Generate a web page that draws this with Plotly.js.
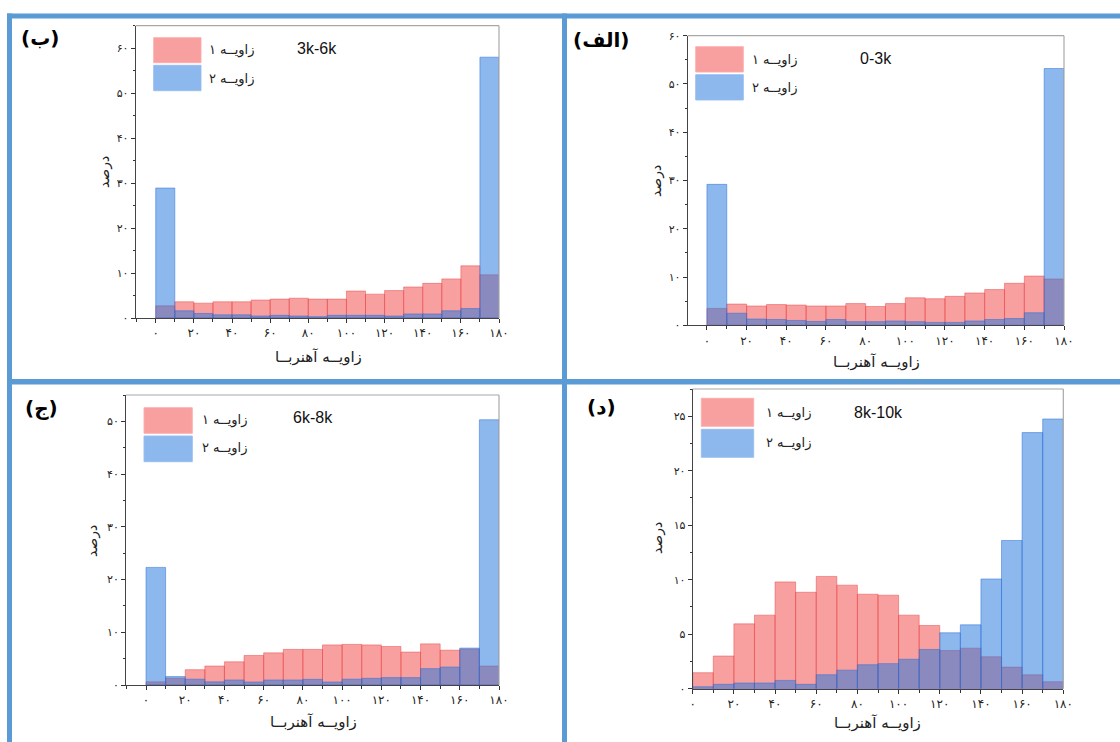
<!DOCTYPE html>
<html>
<head>
<meta charset="utf-8">
<script src="https://cdn.plot.ly/plotly-3.0.1.min.js"></script>
<style>html,body{margin:0;padding:0;background:#fff;}#chart{width:1120px;height:742px;}</style>
</head>
<body>
<div id="chart"></div>
<script>
// ---- data ----
const angleBins = [5,15,25,35,45,55,65,75,85,95,105,115,125,135,145,155,165,175];
const xTickVals = [0,20,40,60,80,100,120,140,160,180];
const xTickText = ['۰','۲۰','۴۰','۶۰','۸۰','۱۰۰','۱۲۰','۱۴۰','۱۶۰','۱۸۰'];

// (الف) 0-3k
const alefAngle1 = [3.5,4.4,4.0,4.3,4.2,4.0,4.0,4.5,3.9,4.5,5.7,5.5,6.0,6.7,7.4,8.7,10.2,9.6];
const alefAngle2 = [29.2,2.5,1.3,1.2,1.0,0.8,1.2,0.76,0.76,0.9,0.76,0.6,0.6,0.9,1.2,1.4,2.6,53.2];
// (ب) 3k-6k
const beAngle1 = [2.7,3.6,3.3,3.6,3.6,4.0,4.2,4.4,4.2,4.2,6.0,5.3,6.1,6.9,7.7,8.7,11.6,9.6];
const beAngle2 = [28.9,1.6,1.0,0.7,0.7,0.45,0.6,0.45,0.3,0.6,0.6,0.6,0.45,0.9,0.9,1.6,2.1,58.0];
// (ج) 6k-8k
const jimAngle1 = [0.6,1.3,2.9,3.6,4.4,5.6,6.1,6.75,6.75,7.6,7.7,7.6,7.3,6.25,7.8,6.6,6.8,3.6];
const jimAngle2 = [22.3,1.6,1.1,0.6,0.95,0.57,0.95,0.95,1.07,0.57,1.1,1.26,1.4,1.4,3.1,3.4,7.0,50.3];
// (د) 8k-10k
const dalAngle1 = [1.47,3.0,5.95,6.75,9.8,8.85,10.3,9.5,8.67,8.58,6.75,5.8,3.5,3.72,2.93,1.98,1.28,0.64];
const dalAngle2 = [0.18,0.4,0.52,0.52,0.76,0.4,1.28,1.7,2.2,2.3,2.7,3.6,5.13,5.86,10.07,13.6,23.5,24.75];

const yTicks60 = [0,10,20,30,40,50,60];
const yText60 = ['۰','۱۰','۲۰','۳۰','۴۰','۵۰','۶۰'];
const yTicks50 = [0,10,20,30,40,50];
const yText50 = ['۰','۱۰','۲۰','۳۰','۴۰','۵۰'];
const yTicks25 = [0,5,10,15,20,25];
const yText25 = ['۰','۵','۱۰','۱۵','۲۰','۲۵'];

const seriesName1 = 'زاویــه ۱';
const seriesName2 = 'زاویــه ۲';
const xTitle = 'زاویــه آهنربــا';
const yTitle = 'درصد';

// ---- layout helpers ----
const W = 1120, H = 742;
const px = v => v / W;
const py = v => 1 - v / H;

const RED_FILL = 'rgba(241,65,65,0.5)';
const RED_LINE = 'rgba(232,60,60,0.45)';
const BLUE_FILL = 'rgba(36,118,220,0.52)';
const BLUE_LINE = 'rgba(40,110,220,0.5)';
const FONT_FA = 'DejaVu Sans, sans-serif';

const panels = [
  {id:'', a1:beAngle1, a2:beAngle2, box:[135.7,499,25.7,318], xr:[-10.5,180], yr:[0,65], yv:yTicks60, yt:yText60, ym:5,
   label:'(ب)', labelPos:[40,38], tag:'3k-6k', tagPos:[317,48],
   leg:[153.7,201,37.7,62.7,65.3,90.7], legText:[232,50,79], xt:[318,357], yT:[104,172]},
  {id:'2', a1:alefAngle1, a2:alefAngle2, box:[687.7,1064,35.7,325.3], xr:[-9.7,180], yr:[0,60], yv:yTicks60, yt:yText60, ym:5,
   label:'(الف)', labelPos:[601,40], tag:'0-3k', tagPos:[876,58],
   leg:[695.7,743.3,46.7,72,74.7,100], legText:[775,60,88], xt:[876,362], yT:[657,181]},
  {id:'3', a1:jimAngle1, a2:jimAngle2, box:[126,499,395,685], xr:[-10.2,180], yr:[0,55], yv:yTicks50, yt:yText50, ym:5,
   label:'(ج)', labelPos:[41,408], tag:'6k-8k', tagPos:[313,417],
   leg:[144,192.3,407.7,433.3,436,461.7], legText:[225,420,448], xt:[313,722], yT:[92,541]},
  {id:'4', a1:dalAngle1, a2:dalAngle2, box:[692.7,1063.3,389,688.7], xr:[0,180], yr:[0,27.5], yv:yTicks25, yt:yText25, ym:2.5,
   label:'(د)', labelPos:[601,407], tag:'8k-10k', tagPos:[878,412],
   leg:[701.3,753.7,398.3,426.3,429.3,457.3], legText:[789,413,443], xt:[877,723], yT:[657,538]}
];

const traces = [];
const layout = {
  width: W, height: H,
  margin: {l:0, r:0, t:0, b:0},
  paper_bgcolor: '#fff', plot_bgcolor: '#fff',
  barmode: 'overlay', bargap: 0,
  showlegend: false,
  shapes: [], annotations: []
};

panels.forEach(p => {
  const xa = 'x' + p.id, ya = 'y' + p.id;
  traces.push({type:'bar', x:angleBins, y:p.a1, width:10, xaxis:xa, yaxis:ya, name:seriesName1,
    marker:{color:RED_FILL, line:{color:RED_LINE, width:1}}, hoverinfo:'x+y'});
  traces.push({type:'bar', x:angleBins, y:p.a2, width:10, xaxis:xa, yaxis:ya, name:seriesName2,
    marker:{color:BLUE_FILL, line:{color:BLUE_LINE, width:1}}, hoverinfo:'x+y'});

  const [x0,x1,y0,y1] = p.box;
  layout['xaxis' + p.id] = {
    domain:[px(x0), px(x1)], range:p.xr, anchor:ya,
    tickvals:xTickVals, ticktext:xTickText, ticks:'outside', ticklen:4, tickwidth:1, tickcolor:'#333',
    minor:{dtick:10, tick0:0, ticks:'outside', ticklen:3, tickcolor:'#333'},
    showgrid:false, zeroline:false, showline:true, linecolor:'#444', linewidth:1,
    tickfont:{family:FONT_FA, size:12, color:'#222'}, fixedrange:true
  };
  layout['yaxis' + p.id] = {
    domain:[py(y1), py(y0)], range:p.yr, anchor:xa,
    tickvals:p.yv, ticktext:p.yt, ticks:'outside', ticklen:4, tickwidth:1, tickcolor:'#333',
    minor:{dtick:p.ym, tick0:0, ticks:'outside', ticklen:2, tickcolor:'#333'},
    showgrid:false, zeroline:false, showline:true, linecolor:'#444', linewidth:1,
    tickfont:{family:FONT_FA, size:11, color:'#222'}, fixedrange:true
  };
  // lighter top & right frame
  layout.shapes.push({type:'line', xref:'paper', yref:'paper', x0:px(x0), x1:px(x1), y0:py(y0), y1:py(y0), line:{color:'#a8a8a8', width:1.2}});
  layout.shapes.push({type:'line', xref:'paper', yref:'paper', x0:px(x1), x1:px(x1), y0:py(y0), y1:py(y1), line:{color:'#a8a8a8', width:1.2}});

  // legend boxes
  const [lx0,lx1,ry0,ry1,by0,by1] = p.leg;
  layout.shapes.push({type:'rect', xref:'paper', yref:'paper', x0:px(lx0), x1:px(lx1), y0:py(ry1), y1:py(ry0),
    fillcolor:RED_FILL, line:{color:'rgba(255,170,170,0.9)', width:1}});
  layout.shapes.push({type:'rect', xref:'paper', yref:'paper', x0:px(lx0), x1:px(lx1), y0:py(by1), y1:py(by0),
    fillcolor:BLUE_FILL, line:{color:'rgba(150,190,240,0.9)', width:1}});
  const [ltx, lty1, lty2] = p.legText;
  layout.annotations.push({xref:'paper', yref:'paper', x:px(ltx), y:py(lty1), text:seriesName1, showarrow:false,
    xanchor:'center', yanchor:'middle', font:{family:FONT_FA, size:13, color:'#222'}});
  layout.annotations.push({xref:'paper', yref:'paper', x:px(ltx), y:py(lty2), text:seriesName2, showarrow:false,
    xanchor:'center', yanchor:'middle', font:{family:FONT_FA, size:13, color:'#222'}});

  // range tag
  layout.annotations.push({xref:'paper', yref:'paper', x:px(p.tagPos[0]), y:py(p.tagPos[1]), text:p.tag, showarrow:false,
    xanchor:'center', yanchor:'middle', font:{family:'Liberation Sans, Arial, sans-serif', size:16, color:'#111'}});
  // panel label
  layout.annotations.push({xref:'paper', yref:'paper', x:px(p.labelPos[0]), y:py(p.labelPos[1]), text:'<b>' + p.label + '</b>', showarrow:false,
    xanchor:'center', yanchor:'middle', font:{family:FONT_FA, size:20, color:'#000'}});
  // axis titles
  layout.annotations.push({xref:'paper', yref:'paper', x:px(p.xt[0]), y:py(p.xt[1]), text:xTitle, showarrow:false,
    xanchor:'center', yanchor:'middle', font:{family:FONT_FA, size:15, color:'#222'}});
  layout.annotations.push({xref:'paper', yref:'paper', x:px(p.yT[0]), y:py(p.yT[1]), text:yTitle, showarrow:false, textangle:-90,
    xanchor:'center', yanchor:'middle', font:{family:FONT_FA, size:14, color:'#222'}});
});

// panel separator lines (blue frame)
const FRAME = '#5b9bd5';
layout.shapes.push({type:'rect', xref:'paper', yref:'paper', x0:px(7), x1:px(1120), y0:py(18.5), y1:py(13.5), fillcolor:FRAME, line:{width:0}, layer:'above'});
layout.shapes.push({type:'rect', xref:'paper', yref:'paper', x0:px(7), x1:px(12), y0:py(742), y1:py(13.5), fillcolor:FRAME, line:{width:0}, layer:'above'});
layout.shapes.push({type:'rect', xref:'paper', yref:'paper', x0:px(562), x1:px(567), y0:py(742), y1:py(13.5), fillcolor:FRAME, line:{width:0}, layer:'above'});
layout.shapes.push({type:'rect', xref:'paper', yref:'paper', x0:px(7), x1:px(1120), y0:py(384.5), y1:py(379), fillcolor:FRAME, line:{width:0}, layer:'above'});

Plotly.newPlot('chart', traces, layout, {staticPlot:true, displayModeBar:false});
</script>
</body>
</html>
